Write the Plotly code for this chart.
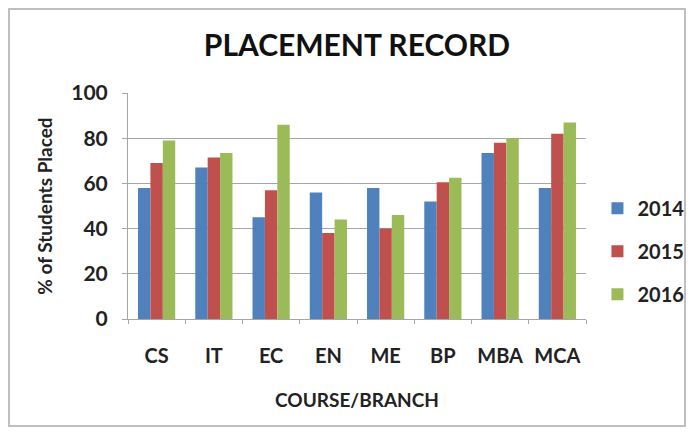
import plotly.graph_objects as go

categories = ["CS", "IT", "EC", "EN", "ME", "BP", "MBA", "MCA"]
years = ["2014", "2015", "2016"]
values_2014 = [58, 67, 45, 56, 58, 52, 73.5, 58]
values_2015 = [69, 71.5, 57, 38, 40, 60.5, 78, 82]
values_2016 = [79, 73.5, 86, 44, 46, 62.5, 80, 87]
colors = ["#4F81BD", "#C0504D", "#9BBB59"]

# the page body has an 8px margin; figure is sized to fit the 694x435 window
W, H = 678, 419
L, R, T, B = 120, 100, 85, 108
PW = W - L - R
PH = H - T - B

fig = go.Figure()
for name, vals, col in zip(years, [values_2014, values_2015, values_2016], colors):
    fig.add_trace(go.Bar(x=categories, y=vals, name="<b>" + name + "</b>", marker_color=col,
                         marker_line_width=0, legendgroup=name))

font_family = "Lato, 'Open Sans', sans-serif"
fig.update_layout(
    width=W, height=H,
    paper_bgcolor="white", plot_bgcolor="white",
    margin=dict(l=L, r=R, t=T, b=B, autoexpand=False),
    barmode="group", bargap=0.35, bargroupgap=0,
    font=dict(family=font_family, color="#222222"),
    title=dict(text="<b>PLACEMENT RECORD</b>", x=0.5, xref="paper", xanchor="center",
               y=1 - 37 / H, yref="container", yanchor="middle",
               font=dict(size=30, color="#111111"), automargin=False),
    showlegend=True,
    legend=dict(x=1.025, xanchor="left", y=0.30, yanchor="middle",
                traceorder="grouped", tracegroupgap=14,
                font=dict(size=20, color="#222222"),
                itemwidth=30, bgcolor="rgba(0,0,0,0)"),
)
fig.update_xaxes(
    showline=True, linecolor="#A6A6A6", linewidth=1,
    ticks="outside", tickson="boundaries", ticklen=4, tickcolor="#A6A6A6",
    tickfont=dict(size=20, color="#222222"), ticklabelstandoff=19,
    tickprefix="<b>", ticksuffix="</b>", automargin=False,
    title=dict(text="<b>COURSE/BRANCH</b>", font=dict(size=19, color="#222222"), standoff=27),
)
fig.update_yaxes(
    range=[0, 100], dtick=20,
    showline=True, linecolor="#A6A6A6", linewidth=1,
    ticks="outside", ticklen=5, tickcolor="#A6A6A6",
    showgrid=True, gridcolor="#A6A6A6", gridwidth=1,
    zeroline=False, automargin=False,
    tickfont=dict(size=21, color="#222222"), ticklabelstandoff=10,
    tickprefix="<b>", ticksuffix="</b>",
    title=dict(text="<b>% of Students Placed</b>", font=dict(size=19, color="#222222"), standoff=13),
)
# outer chart frame along the figure edges
fig.add_shape(type="rect", xref="paper", yref="paper",
              x0=-(L - 1) / PW, x1=1 + (R - 1) / PW, y0=-(B - 1) / PH, y1=1 + (T - 1) / PH,
              line=dict(color="#BFBFBF", width=2), fillcolor="rgba(0,0,0,0)", layer="below")

fig.write_html("out.html")
